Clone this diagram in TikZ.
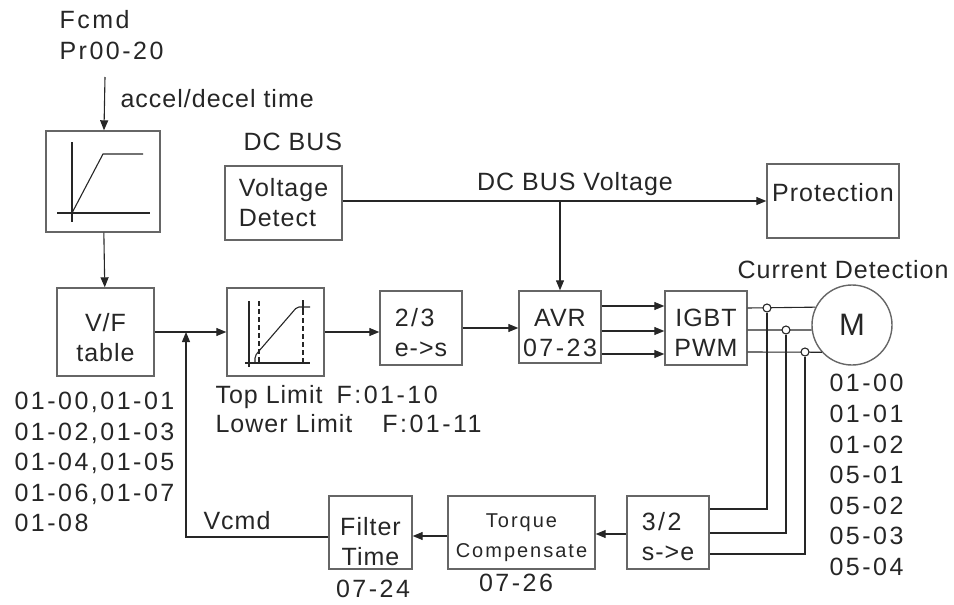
\documentclass[tikz,border=0pt]{standalone}
\usepackage{fontspec}
\setmainfont[LetterSpace=4]{Liberation Sans}
\newfontfamily\wideft[LetterSpace=10]{Liberation Sans}
\usetikzlibrary{arrows.meta, positioning, shapes}

\begin{document}
\begin{tikzpicture}[x=1pt, y=-1pt, >={Triangle[length=10pt, width=8pt]},
        font=\fontsize{25}{30}\selectfont, line width=1.1pt, color=black!85,
        blk/.style={draw=black!60, line width=1.4pt, rectangle, inner sep=0pt, align=center},
        txt/.style={inner sep=0pt, align=left},
        num/.style={txt, font=\fontsize{25}{30.6}\selectfont\wideft},
        tap/.style={draw, circle, fill=white, inner sep=0pt, minimum size=8pt},
        limdash/.style={dash pattern=on 5pt off 3pt}]
        \useasboundingbox (0,0) rectangle (954,605);

        % Command input and ramp
        \node (fcmd) [num, anchor=west] at (59,35) {Fcmd\\Pr00-20};
        \coordinate (fin) at (105,77);
        \node (accel) [txt, anchor=west] at (120,99) {accel/decel time};
        \node (ramp) [blk, minimum width=114pt, minimum height=101pt] at (103,181.5) {};
        \draw (72,142) -- (72,222);
        \draw (57,213) -- (150,213);
        \draw (72,213) -- (103,154) -- (143,154);

        % DC bus
        \node (dcbus) [txt, anchor=west] at (243,142) {DC BUS};
        \node (voltdet) [blk, align=left, minimum width=117pt, minimum height=74pt] at (283.5,203) {Voltage\\Detect};
        \node (protect) [blk, minimum width=132pt, minimum height=74pt] at (833,201) {};
        \node (prottxt) [txt] at ([yshift=8pt]protect.center) {Protection};
        \node (busv) [txt] at (575,184) {DC BUS Voltage};

        % Forward path
        \node (vftable) [blk, minimum width=97pt, minimum height=88pt] at (105.5,332) {\rule{0pt}{30pt}V/F\\table};
        \node (vfpar) [num, anchor=west] at (14,462) {01-00,01-01\\01-02,01-03\\01-04,01-05\\01-06,01-07\\01-08};
        \node (limiter) [blk, minimum width=97pt, minimum height=88pt] at (275.5,332) {};
        \draw (249,301) -- (249,367);
        \draw (245,363) -- (310,363);
        \draw[limdash] (259,301) -- (259,363);
        \draw[limdash] (303,310) -- (303,363);
        \draw (303,300) -- (303,310);
        \draw[rounded corners=2pt] (255,363) -- (255,356) -- (259,351) -- (297,307) -- (310,307);
        \node (limpar) [txt, anchor=west, font=\fontsize{25}{29}\selectfont] at (215,409.5)
            {Top Limit\hspace{14pt}{\wideft F:01-10}\\Lower Limit\hspace{30pt}{\wideft F:01-11}};
        \node (conv) [blk, align=left, minimum width=82pt, minimum height=74pt] at (421,328) {\rule{0pt}{27pt}{\wideft 2/3}\\e->s};
        \node (avr) [blk, minimum width=82pt, minimum height=72pt] at (560,327) {\rule{0pt}{29pt}AVR\\{\wideft 07-23}};
        \node (igbt) [blk, minimum width=82pt, minimum height=74pt] at (706,328) {\rule{0pt}{26pt}IGBT\\PWM};
        \node (motor) [draw=black!60, line width=1.4pt, circle, minimum size=80pt, inner sep=0pt, font=\fontsize{31}{31}\selectfont] at (852,325) {M};
        \node (curdet) [txt, anchor=west] at (737,270) {Current Detection};
        \node (motpar) [num, anchor=west] at (829,475) {01-00\\01-01\\01-02\\05-01\\05-02\\05-03\\05-04};

        % Feedback path
        \node (backconv) [blk, align=left, minimum width=82pt, minimum height=73pt] at (668,532.5) {\rule{0pt}{26pt}{\wideft 3/2}\\s->e};
        \node (torque) [blk, minimum width=147pt, minimum height=73pt, font=\fontsize{20}{30}\selectfont\wideft] at (521.5,532.5) {\rule{0pt}{25pt}Torque\\Compensate};
        \node (torqpar) [num] at (516,583) {07-26};
        \node (filter) [blk, minimum width=83pt, minimum height=73pt] at (370.5,532.5) {\rule{0pt}{36pt}Filter\\Time};
        \node (filtpar) [num] at (373,589) {07-24};
        \node (vcmd) [txt] at (237,521) {Vcmd};
        \coordinate (jn) at (186,332);

        % Arrows
        \draw[->] (fin) -- (ramp);
        \draw[->] (ramp) -- (vftable);
        \draw[->] (vftable) -- (limiter);
        \draw[->] (limiter.east) -- (limiter.east -| conv.west);
        \draw[->] (conv.east) -- (conv.east -| avr.west);
        \foreach \y in {306,331,354}
            \draw[->] (avr.east |- 0,\y) -- (igbt.west |- 0,\y);
        \draw (igbt.east |- 0,308) -- (motor.154.8);
        \draw (igbt.east |- 0,330) -- (motor.187.2);
        \draw (igbt.east |- 0,352) -- (motor.222.5);
        \node (tapa) [tap] at (767,308) {};
        \node (tapb) [tap] at (786,330) {};
        \node (tapc) [tap] at (805,352) {};
        \draw (tapa.south) |- (backconv.east |- 0,509);
        \draw (tapb.south) |- (backconv.east |- 0,533);
        \draw (tapc.south) |- (backconv.east |- 0,554);
        \draw[->] (backconv.west |- 0,534) -- (torque.east |- 0,534);
        \draw[->] (torque.west |- 0,536) -- (filter.east |- 0,536);
        \draw[->] (filter.west |- 0,537) -| (jn);
        \draw[->] (voltdet.east |- protect.west) -- (protect.west);
        \draw[->] (avr.north |- protect.west) -- (avr.north);
\end{tikzpicture}
\end{document}
